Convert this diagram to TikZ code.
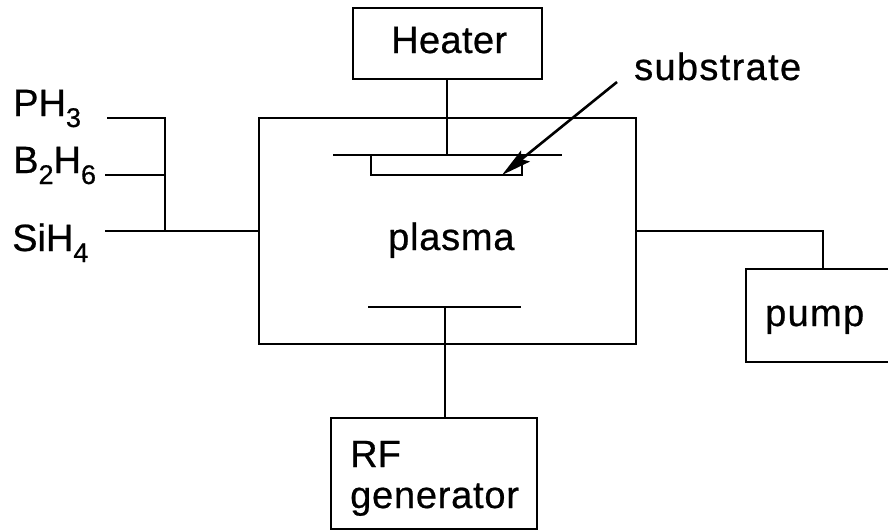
\documentclass[tikz,border=0pt]{standalone}
\usepackage{fontspec}
\setmainfont{Liberation Sans}[FakeBold=0.6]
\usetikzlibrary{arrows.meta}
\newcommand{\lowsub}[1]{\raisebox{-11pt}{\fontsize{27}{27}\selectfont #1}}
\newcommand{\spaced}[2]{{\addfontfeature{LetterSpace=#1}#2}}
\begin{document}
\begin{tikzpicture}[x=1pt,y=-1pt,
  ln/.style={draw=black,line width=1.8pt},
  box/.style={draw=black,line width=1.8pt,fill=white,inner sep=0pt,outer sep=0pt,anchor=north west},
  lab/.style={font=\fontsize{38}{44}\selectfont,inner sep=0pt,text=black,anchor=base west}]
\useasboundingbox (0,0) rectangle (888,530);
\node[box,minimum width=189,minimum height=71] (heater) at (353,8) {};
\node[lab] (heatertxt) at (391,53) {\spaced{1}{Heater}};
\node[box,minimum width=377,minimum height=226] (chamber) at (259,118) {};
\node[lab] (plasmatxt) at (388,250) {\spaced{2}{plasma}};
\node[box,minimum width=150,minimum height=93] (pump) at (746,269) {};
\node[lab] (pumptxt) at (765,326) {\spaced{3.5}{pump}};
\node[box,minimum width=206,minimum height=111] (rf) at (331,418) {};
\node[lab] (rftxt) at (350,467) {RF};
\node[lab] (gentxt) at (350,508) {\spaced{2}{generator}};
\coordinate (h1) at (447,79);
\coordinate (h2) at (447,155);
\coordinate (s1) at (333,155);
\coordinate (s2) at (562,155);
\draw[ln] (h1) -- (h2);
\draw[ln] (s1) -- (s2);
\draw[ln] (371,155) -- (371,175) -- (522,175) -- (522,155);
\coordinate (e1) at (368,307);
\coordinate (e2) at (521,307);
\coordinate (e3) at (445,307);
\coordinate (e4) at (445,418);
\draw[ln] (e1) -- (e2);
\draw[ln] (e3) -- (e4);
\coordinate (p1) at (636,231);
\coordinate (p2) at (823,231);
\coordinate (p3) at (823,269);
\draw[ln] (p1) -- (p2) -- (p3);
\coordinate (g1) at (107,118);
\coordinate (g2) at (165,118);
\coordinate (g3) at (165,231);
\coordinate (g4) at (105,231);
\coordinate (g5) at (259,231);
\coordinate (g6) at (105,175);
\coordinate (g7) at (165,175);
\draw[ln] (g1) -- (g2) -- (g3);
\draw[ln] (g4) -- (g5);
\draw[ln] (g6) -- (g7);
\coordinate (a1) at (617,82);
\coordinate (a2) at (502,175);
\draw[draw=black,line width=2.6pt,-{Stealth[length=30pt,width=14pt,inset=5pt]}] (a1) -- (a2);
\node[lab] (subtxt) at (634,80) {\spaced{3.5}{substrate}};
\node[lab] (ph) at (13,116) {PH\lowsub{3}};
\node[lab] (bh) at (13,173) {B\lowsub{2}H\lowsub{6}};
\node[lab] (si) at (12,251) {SiH\lowsub{4}};
\end{tikzpicture}
\end{document}
